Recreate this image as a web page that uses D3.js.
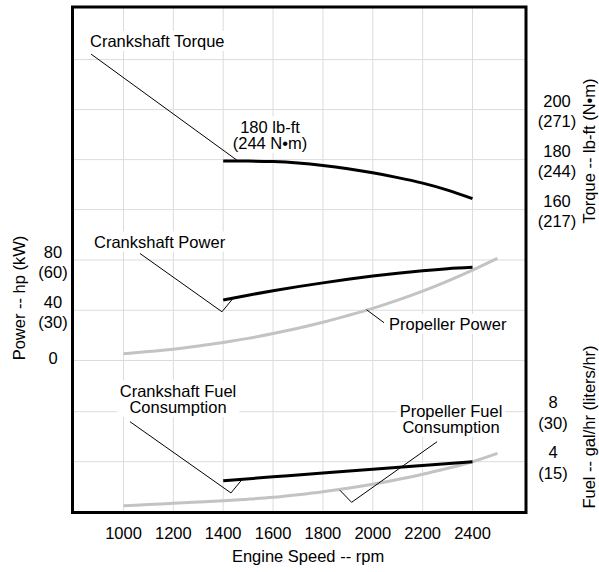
<!DOCTYPE html>
<html>
<head>
<meta charset="utf-8">
<script src="https://cdn.jsdelivr.net/npm/d3@7"></script>
<style>
  body { margin: 0; background: #fff; }
  svg text { font-family: "Liberation Sans", Arial, sans-serif; font-size: 16.5px; fill: #000; }
</style>
</head>
<body>
<div id="chart"></div>
<script>
// ---- data ----
const rpmTicks = [1000, 1200, 1400, 1600, 1800, 2000, 2200, 2400];

const crankRpm = [1400, 1500, 1600, 1700, 1800, 1900, 2000, 2100, 2200, 2300, 2400];
const torqueVals = [179.4, 179.4, 179.2, 178.6, 177.6, 176.3, 174.7, 172.8, 170.6, 167.8, 164.4];
const crankPowerVals = [48.2, 52.0, 55.5, 58.8, 61.8, 64.6, 67.2, 69.5, 71.5, 73.1, 74.2];

const crankFuelRpm = [1400, 1600, 1800, 2000, 2200, 2400];
const crankFuelVals = [2.48, 2.79, 3.1, 3.4, 3.7, 4.0];

const propRpm = [1000, 1100, 1200, 1300, 1400, 1500, 1600, 1700, 1800, 1900, 2000, 2100, 2200, 2300, 2400, 2500];
const propPowerVals = [5.4, 7.1, 9.0, 11.5, 14.4, 17.6, 21.5, 25.7, 30.4, 35.8, 41.5, 48.0, 55.2, 63.2, 72.0, 81.4];
const propFuelVals = [0.48, 0.57, 0.67, 0.77, 0.87, 1.0, 1.15, 1.36, 1.6, 1.88, 2.19, 2.57, 2.99, 3.47, 4.0, 4.67];

const torqueTicks = [160, 180, 200];
const torqueMetric = ["(217)", "(244)", "(271)"];
const torqueGrid = [160, 180, 200, 220];
const powerTicks = [0, 40, 80];
const powerMetric = ["", "(30)", "(60)"];
const fuelTicks = [4, 8];
const fuelMetric = ["(15)", "(30)"];

// ---- layout ----
const width = 599, height = 572;
const frame = { left: 72.5, right: 526, top: 7, bottom: 512.5 };

const svg = d3.select("#chart").append("svg")
  .attr("width", width)
  .attr("height", height);

const xScale = d3.scaleLinear().domain([1000, 2400]).range([123.5, 472.5]);
const torqueScale = d3.scaleLinear().domain([160, 200]).range([209.6, 109.6]);
const powerScale = d3.scaleLinear().domain([0, 80]).range([360.5, 260]);
const fuelScale = d3.scaleLinear().domain([0, 8]).range([511.7, 411.7]);
const scales = { torque: torqueScale, power: powerScale, fuel: fuelScale };

// grid
const grid = svg.append("g").attr("stroke", "#dcdcdc").attr("stroke-width", 1);
grid.selectAll(".vgrid").data(rpmTicks).join("line")
  .attr("x1", (d) => xScale(d)).attr("x2", (d) => xScale(d))
  .attr("y1", frame.top).attr("y2", frame.bottom);
const hgrid = [
  ...torqueGrid.map((d) => torqueScale(d)),
  ...powerTicks.map((d) => powerScale(d)),
  ...fuelTicks.map((d) => fuelScale(d)),
];
grid.selectAll(".hgrid").data(hgrid).join("line")
  .attr("x1", frame.left).attr("x2", frame.right)
  .attr("y1", (d) => d).attr("y2", (d) => d);

// annotation labels (white box behind text) + leader lines in data units
const annotations = [
  { text: ["Crankshaft Torque"], anchor: "start", x: 90, y: 47, scale: "torque",
    leader: [[870, 222.2], [1460, 179.4]] },
  { text: ["180 lb-ft", "(244 N\u2022m)"], anchor: "middle", x: 270, y: 132.5, scale: "torque", leader: null },
  { text: ["Crankshaft Power"], anchor: "start", x: 94, y: 247.5, scale: "power",
    leader: [[1066, 85.2], [1395, 38.8], [1440, 49.6]] },
  { text: ["Propeller Power"], anchor: "start", x: 389, y: 330, scale: "power",
    leader: [[1975, 40.4], [2045, 30.1]] },
  { text: ["Crankshaft Fuel", "Consumption"], anchor: "middle", x: 178, y: 396.5, scale: "fuel",
    leader: [[1026, 7.2], [1431, 1.5], [1475, 2.56]] },
  { text: ["Propeller Fuel", "Consumption"], anchor: "middle", x: 451, y: 416.5, scale: "fuel",
    leader: [[2258, 5.6], [1915, 0.75], [1868, 1.72]] },
];

const bgLayer = svg.append("g");
const curveLayer = svg.append("g");
const leaderLayer = svg.append("g");
const textLayer = svg.append("g");

annotations.forEach((a) => {
  const t = textLayer.append("text")
    .attr("x", a.x).attr("y", a.y)
    .attr("text-anchor", a.anchor);
  a.text.forEach((line, i) => {
    t.append("tspan").attr("x", a.x).attr("dy", i === 0 ? 0 : 16.4).text(line);
  });
  const bb = t.node().getBBox();
  bgLayer.append("rect")
    .attr("x", bb.x - 3).attr("y", bb.y - 1)
    .attr("width", bb.width + 6).attr("height", bb.height + 2)
    .attr("fill", "#fff");
  if (a.leader) {
    const ys = scales[a.scale];
    leaderLayer.append("path")
      .attr("d", d3.line().x((d) => xScale(d[0])).y((d) => ys(d[1]))(a.leader))
      .attr("fill", "none")
      .attr("stroke", "#000")
      .attr("stroke-width", 1);
  }
});

// curves
function drawCurve(xs, vals, yScale, color) {
  const pts = xs.map((x, i) => [x, vals[i]]);
  curveLayer.append("path")
    .attr("d", d3.line()
      .x((d) => xScale(d[0]))
      .y((d) => yScale(d[1]))
      .curve(d3.curveNatural)(pts))
    .attr("fill", "none")
    .attr("stroke", color)
    .attr("stroke-width", 3);
}
drawCurve(propRpm, propPowerVals, powerScale, "#c3c3c3");
drawCurve(propRpm, propFuelVals, fuelScale, "#c3c3c3");
drawCurve(crankRpm, torqueVals, torqueScale, "#000");
drawCurve(crankRpm, crankPowerVals, powerScale, "#000");
drawCurve(crankFuelRpm, crankFuelVals, fuelScale, "#000");

// frame
svg.append("rect")
  .attr("x", frame.left).attr("y", frame.top)
  .attr("width", frame.right - frame.left)
  .attr("height", frame.bottom - frame.top)
  .attr("fill", "none")
  .attr("stroke", "#000")
  .attr("stroke-width", 3);

// tick labels
svg.append("g").selectAll("text").data(rpmTicks).join("text")
  .attr("x", (d) => xScale(d)).attr("y", 538.5)
  .attr("text-anchor", "middle")
  .text((d) => d);

function pairLabels(ticks, metric, yScale, cx, up, down) {
  const g = svg.append("g");
  ticks.forEach((v, i) => {
    const y = yScale(v);
    if (metric[i]) {
      g.append("text").attr("x", cx).attr("y", y - up).attr("text-anchor", "middle").text(v);
      g.append("text").attr("x", cx).attr("y", y + down).attr("text-anchor", "middle").text(metric[i]);
    } else {
      g.append("text").attr("x", cx).attr("y", y + 3).attr("text-anchor", "middle").text(v);
    }
  });
}
pairLabels(powerTicks, powerMetric, powerScale, 53, 2.5, 17.5);
pairLabels(torqueTicks, torqueMetric, torqueScale, 557, 2.5, 17.5);
pairLabels(fuelTicks, fuelMetric, fuelScale, 553, 3.5, 17.5);

// axis titles
svg.append("text")
  .attr("transform", "translate(24.5,298) rotate(-90)")
  .attr("text-anchor", "middle")
  .text("Power -- hp (kW)");
svg.append("text")
  .attr("transform", "translate(595,151) rotate(-90)")
  .attr("text-anchor", "middle")
  .text("Torque -- lb-ft (N\u2022m)");
svg.append("text")
  .attr("transform", "translate(595,427) rotate(-90)")
  .attr("text-anchor", "middle")
  .text("Fuel -- gal/hr (liters/hr)");
svg.append("text")
  .attr("x", 308).attr("y", 562)
  .attr("text-anchor", "middle")
  .text("Engine Speed -- rpm");
</script>
</body>
</html>
